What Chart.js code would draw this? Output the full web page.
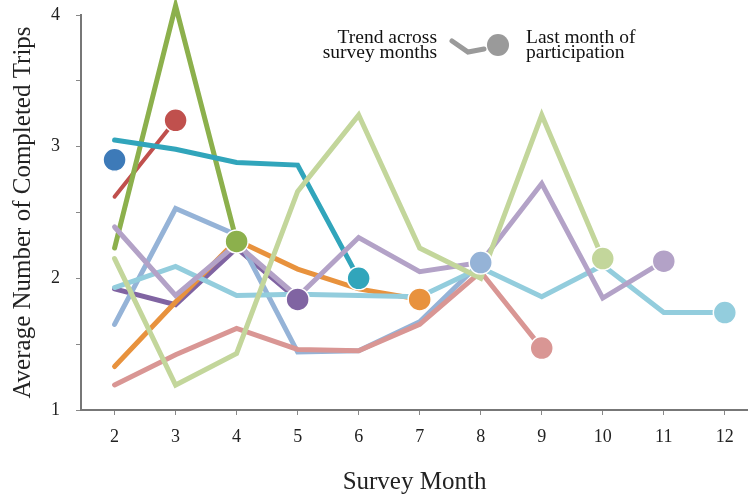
<!DOCTYPE html>
<html>
<head>
<meta charset="utf-8">
<title>Average Number of Completed Trips</title>
<script src="https://cdn.jsdelivr.net/npm/chart.js@4.4.1/dist/chart.umd.min.js"></script>
<style>
  html, body { margin: 0; padding: 0; background: #fff; }
  #wrap { width: 748px; height: 497px; }
</style>
</head>
<body>
<div id="wrap"><canvas id="trips" width="748" height="497"></canvas></div>
<script>
// Survey months (x axis)
const months = [2, 3, 4, 5, 6, 7, 8, 9, 10, 11, 12];
const yTicks = [1, 1.5, 2, 2.5, 3, 3.5, 4];

// each series starts at month 2, last value = last month of participation
const blueTrips = [2.90];
const redTrips = [2.62, 3.20];
const oliveTrips = [2.23, 4.07, 2.28];
const tealTrips = [3.05, 2.98, 2.88, 2.86, 2.00];
const purpleTrips = [1.92, 1.80, 2.23, 1.84];
const orangeTrips = [1.33, 1.82, 2.29, 2.07, 1.92, 1.84];
const periwinkleTrips = [1.65, 2.53, 2.33, 1.44, 1.45, 1.67, 2.12];
const pinkTrips = [1.19, 1.42, 1.62, 1.46, 1.45, 1.65, 2.05, 1.47];
const lightGreenTrips = [2.15, 1.19, 1.43, 2.66, 3.24, 2.23, 2.00, 3.24, 2.15];
const lavenderTrips = [2.39, 1.87, 2.26, 1.86, 2.31, 2.05, 2.12, 2.72, 1.85, 2.13];
const skyTrips = [1.93, 2.09, 1.87, 1.88, 1.87, 1.86, 2.08, 1.86, 2.10, 1.74, 1.74];

const series = [
  { values: lightGreenTrips, color: '#c3d69b' },
  { values: lavenderTrips, color: '#b3a2c7' },
  { values: skyTrips, color: '#93cddd' },
  { values: pinkTrips, color: '#d99694' },
  { values: periwinkleTrips, color: '#95b3d7' },
  { values: orangeTrips, color: '#e8923d' },
  { values: purpleTrips, color: '#8064a2' },
  { values: tealTrips, color: '#31a5bb' },
  { values: oliveTrips, color: '#8cb04c' },
  { values: redTrips, color: '#c0504d', width: 4 },
  { values: blueTrips, color: '#3d7ab8' }
];

const serif = '"Liberation Serif", "Times New Roman", serif';
Chart.defaults.font.family = serif;
Chart.defaults.color = '#222';

const toPoints = vals => vals.map((v, i) => ({ x: months[i], y: v }));

const lineSets = series.map((s, i) => ({
  type: 'line',
  data: toPoints(s.values),
  borderColor: s.color,
  borderWidth: s.width || 5,
  borderCapStyle: 'round',
  borderJoinStyle: 'miter',
  pointRadius: 0,
  tension: 0,
  clip: false,
  order: 1 + i
}));

// one dot per series at its last month
const lastDots = {
  type: 'scatter',
  data: series.map(s => ({ x: months[s.values.length - 1], y: s.values[s.values.length - 1] })),
  pointRadius: 11.5,
  pointBackgroundColor: series.map(s => s.color),
  pointBorderColor: '#fff',
  pointBorderWidth: 1.5,
  clip: false,
  order: 0
};

// key in the top right corner
const keyPlugin = {
  id: 'key',
  afterDraw(chart) {
    const ctx = chart.ctx;
    ctx.save();
    ctx.font = '19.5px ' + serif;
    ctx.fillStyle = '#111';
    ctx.textBaseline = 'alphabetic';
    ctx.textAlign = 'right';
    ctx.fillText('Trend across', 437, 43);
    ctx.fillText('survey months', 437, 58);
    ctx.textAlign = 'left';
    ctx.fillText('Last month of', 526, 43);
    ctx.fillText('participation', 526, 58);
    ctx.strokeStyle = '#9a9a9a';
    ctx.lineWidth = 5;
    ctx.lineCap = 'round';
    ctx.beginPath();
    ctx.moveTo(452, 41);
    ctx.lineTo(468, 52);
    ctx.lineTo(484, 49);
    ctx.stroke();
    ctx.fillStyle = '#9a9a9a';
    ctx.beginPath();
    ctx.arc(498, 45, 11, 0, Math.PI * 2);
    ctx.fill();
    ctx.restore();
  }
};

new Chart(document.getElementById('trips'), {
  data: { datasets: [lastDots, ...lineSets] },
  options: {
    responsive: false,
    animation: false,
    devicePixelRatio: 1,
    layout: { autoPadding: false, padding: { top: 15, right: 0, left: 0, bottom: 0 } },
    plugins: { legend: { display: false }, tooltip: { enabled: false } },
    scales: {
      x: {
        type: 'linear',
        min: 1.45,
        max: 12.38,
        afterBuildTicks: axis => { axis.ticks = months.map(v => ({ value: v })); },
        afterFit: axis => { axis.height = 87; axis.paddingRight = 0; axis.paddingLeft = 0; },
        border: { display: true, color: '#777', width: 2 },
        grid: { display: true, drawOnChartArea: false, drawTicks: true, tickLength: 5, color: '#888' },
        ticks: { font: { size: 18 }, padding: 11, color: '#222', maxRotation: 0 },
        title: { display: true, text: 'Survey Month', font: { size: 25 }, color: '#222', padding: { top: 0, bottom: 0 } }
      },
      y: {
        type: 'linear',
        min: 1,
        max: 4,
        afterBuildTicks: axis => { axis.ticks = yTicks.map(v => ({ value: v })); },
        afterFit: axis => { axis.width = 81; axis.paddingTop = 0; axis.paddingBottom = 0; },
        border: { display: true, color: '#777', width: 2 },
        grid: { display: true, drawOnChartArea: false, drawTicks: true, tickLength: 5, color: '#888' },
        ticks: {
          font: { size: 18 },
          padding: 16,
          color: '#222',
          callback: v => Number.isInteger(v) ? v : ''
        },
        title: { display: true, text: 'Average Number of Completed Trips', font: { size: 25 }, color: '#222', padding: { top: 8, bottom: 0 } }
      }
    }
  },
  plugins: [keyPlugin]
});
</script>
</body>
</html>
